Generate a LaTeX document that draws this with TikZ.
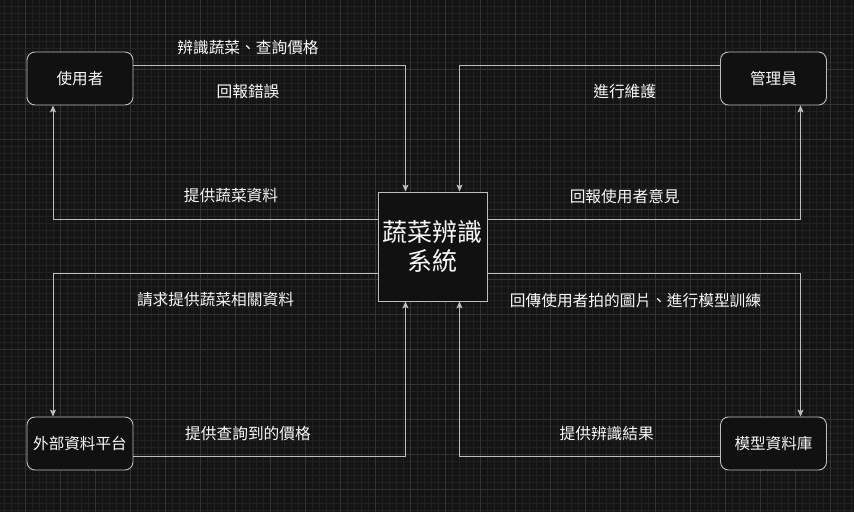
\documentclass[tikz,border=0pt]{standalone}
\usepackage{fontspec}
\setmainfont{Noto Sans CJK TC}
\usepackage{tikz}
\usetikzlibrary{shapes,arrows,arrows.meta,positioning}

\definecolor{bgcol}{RGB}{20,20,20}
\definecolor{minorcol}{RGB}{33,33,33}
\definecolor{majorcol}{RGB}{52,52,52}
\definecolor{boxcol}{RGB}{17,17,17}
\definecolor{edgecol}{RGB}{190,190,190}
\definecolor{textcol}{RGB}{248,248,248}

\begin{document}
\begin{tikzpicture}[x=1pt, y=1pt]
    \tikzstyle{block} = [rectangle, draw=edgecol, line width=0.9pt, fill=boxcol, text=textcol, minimum width=106pt, minimum height=53pt, rounded corners=8pt, font=\fontsize{15.6}{18}\selectfont]
    \tikzstyle{sysblock} = [rectangle, draw=edgecol, line width=0.9pt, fill=boxcol, text=textcol, minimum width=109pt, minimum height=109pt, align=center, font=\fontsize{25}{29}\selectfont]
    \tikzstyle{line} = [draw=edgecol, line width=0.9pt, -{Stealth[length=7pt, width=6pt, inset=1.5pt]}]
    \tikzstyle{tag} = [text=textcol, font=\fontsize{15.7}{18}\selectfont, inner sep=1pt]
    \tikzstyle{minorgrid} = [draw=minorcol, line width=0.7pt]
    \tikzstyle{majorgrid} = [draw=majorcol, line width=0.9pt]

    % background and grid
    \fill[bgcol] (0,0) rectangle (854,512);
    \useasboundingbox (0,0) rectangle (854,512);
    \foreach \x in {4,11,...,851} \draw[minorgrid] (\x,0) -- (\x,512);
    \foreach \y in {1.7,8.7,...,511} \draw[minorgrid] (0,\y) -- (854,\y);
    \foreach \x in {25,60,...,830} \draw[majorgrid] (\x,0) -- (\x,512);
    \foreach \y in {22.7,57.7,...,478} \draw[majorgrid] (0,\y) -- (854,\y);

    % nodes
    \node[sysblock] (system) at (432.5,265.5) {蔬菜辨識\\系統};
    \node[block] (user) at (80,433.5) {使用者};
    \node[block] (admin) at (773.5,433.5) {管理員};
    \node[block] (platform) at (80,68.5) {外部資料平台};
    \node[block] (modeldb) at (773.5,68.5) {模型資料庫};

    % connectors
    \path[line] ([yshift=13pt]user.east) -| ([xshift=-27pt]system.north);
    \path[line] ([yshift=13pt]admin.west) -| ([xshift=27pt]system.north);
    \path[line] ([yshift=27pt]system.west) -| ([xshift=-27pt]user.south);
    \path[line] ([yshift=27pt]system.east) -| ([xshift=27pt]admin.south);
    \path[line] ([yshift=-27pt]system.west) -| ([xshift=-27pt]platform.north);
    \path[line] ([yshift=-27pt]system.east) -| ([xshift=27pt]modeldb.north);
    \path[line] ([yshift=-13pt]platform.east) -| ([xshift=-27pt]system.south);
    \path[line] ([yshift=-13pt]modeldb.west) -| ([xshift=27pt]system.south);

    % labels
    \node[tag] (identify) at (248,464) {辨識蔬菜、查詢價格};
    \node[tag] (error) at (248,420.3) {回報錯誤};
    \node[tag] (vegdata) at (231,316) {提供蔬菜資料};
    \node[tag] (request) at (215.5,212) {請求提供蔬菜相關資料};
    \node[tag] (price) at (248,78.7) {提供查詢到的價格};
    \node[tag] (maintain) at (624.7,420.3) {進行維護};
    \node[tag] (feedback) at (624.7,315.3) {回報使用者意見};
    \node[tag] (upload) at (635.5,211.3) {回傳使用者拍的圖片、進行模型訓練};
    \node[tag] (result) at (606.7,78.7) {提供辨識結果};
\end{tikzpicture}
\end{document}
